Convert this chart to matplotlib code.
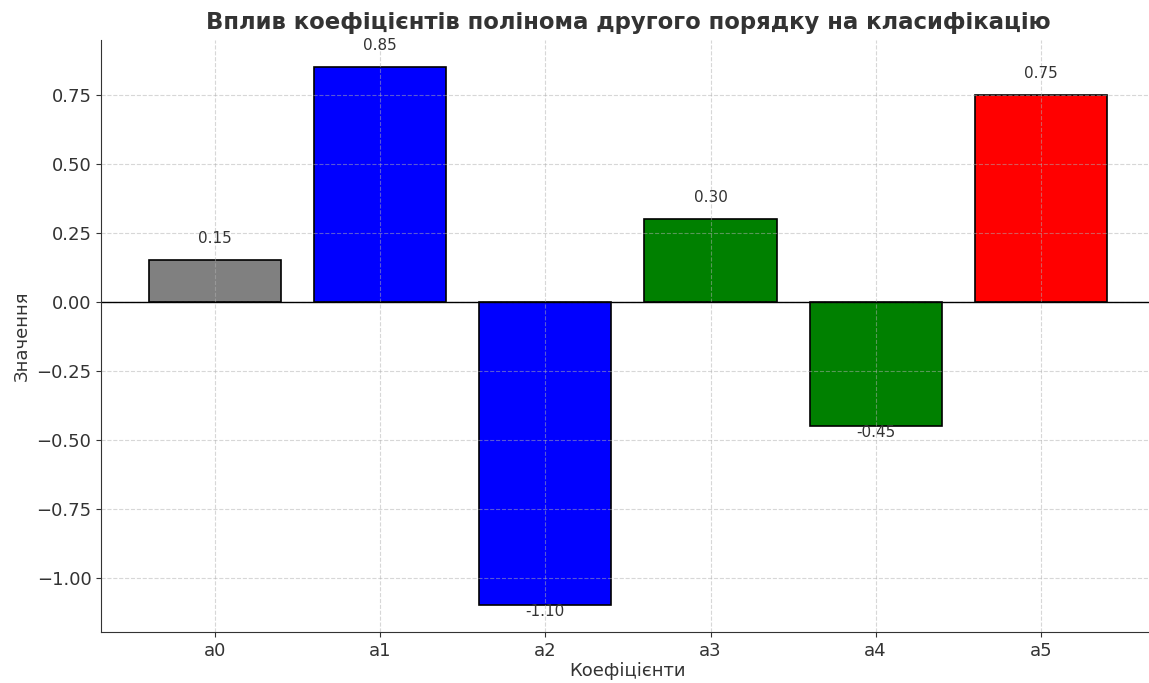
import numpy as np
import matplotlib
matplotlib.use("Agg")
import matplotlib.pyplot as plt

coefs = ["a0", "a1", "a2", "a3", "a4", "a5"]
values = [0.15, 0.85, -1.10, 0.30, -0.45, 0.75]
colors = ["gray", "blue", "blue", "green", "green", "red"]

txt = "#333333"
plt.rcParams["text.color"] = txt
plt.rcParams["axes.labelcolor"] = txt
plt.rcParams["xtick.color"] = txt
plt.rcParams["ytick.color"] = txt
plt.rcParams["axes.edgecolor"] = txt

fig = plt.figure(figsize=(11.49, 6.83), dpi=100)
ax = fig.add_axes([0.088, 0.0747, 0.917, 0.8663])

bars = ax.bar(coefs, values, color=colors, edgecolor="black", linewidth=1.2)
ax.axhline(0, color="black", linewidth=1)

# value labels above positive bars, below negative ones
for b, v in zip(bars, values):
    y = v + 0.05 if v > 0 else v - 0.05
    ax.text(b.get_x() + b.get_width() / 2, y, f"{v:.2f}",
            ha="center", va="bottom", fontsize=11, color=txt)

ax.set_title("Вплив коефіцієнтів полінома другого порядку на класифікацію",
             fontsize=16.4, fontweight="bold", pad=8)
ax.set_xlabel("Коефіцієнти", fontsize=13, labelpad=2)
ax.set_ylabel("Значення", fontsize=13)
ax.tick_params(labelsize=13)
ax.grid(True, linestyle="--", alpha=0.5, linewidth=0.8)
ax.spines["top"].set_visible(False)
ax.spines["right"].set_visible(False)

fig.savefig("out.png", dpi=100)
